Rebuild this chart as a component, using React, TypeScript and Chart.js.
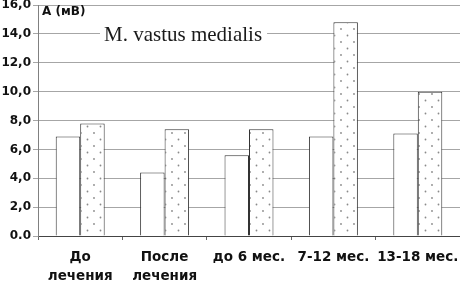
import React, { useEffect, useRef } from "react";
import { Chart, registerables } from "chart.js";

Chart.register(...registerables);

const categories: string[][] = [
  ["До", "лечения"],
  ["После", "лечения"],
  ["до 6 мес."],
  ["7-12 мес."],
  ["13-18 мес."],
];
const seriesA: number[] = [6.9, 4.4, 5.6, 6.9, 7.1];
const seriesB: number[] = [7.8, 7.4, 7.4, 14.8, 10.0];
const yTickLabels: string[] = ["0.0", "2,0", "4,0", "6,0", "8,0", "10,0", "12,0", "14,0", "16,0"];
const chartTitle = "M. vastus medialis";
const axisTitle = "А (мВ)";

function makeDotPattern(): CanvasPattern | string {
  const c = document.createElement("canvas");
  c.width = 13;
  c.height = 13;
  const ctx = c.getContext("2d");
  if (!ctx) return "#fff";
  ctx.fillStyle = "#ffffff";
  ctx.fillRect(0, 0, 13, 13);
  ctx.fillStyle = "#8a8a8a";
  ctx.beginPath();
  ctx.arc(3, 3, 0.9, 0, Math.PI * 2);
  ctx.fill();
  ctx.beginPath();
  ctx.arc(9.5, 9.5, 0.9, 0, Math.PI * 2);
  ctx.fill();
  const p = ctx.createPattern(c, "repeat");
  return p || "#fff";
}

const textPlugin = {
  id: "textPlugin",
  beforeDatasetsDraw(chart: any) {
    const ctx = chart.ctx;
    const y = chart.scales.y;
    ctx.save();
    ctx.font = '21px "Liberation Serif", "Times New Roman", serif';
    const w = ctx.measureText(chartTitle).width;
    const tx = 104;
    const ty = y.getPixelForValue(14);
    ctx.fillStyle = "#ffffff";
    ctx.fillRect(tx - 4, ty - 12, w + 9, 24);
    ctx.fillStyle = "#1a1a1a";
    ctx.textBaseline = "middle";
    ctx.textAlign = "left";
    ctx.fillText(chartTitle, tx, ty + 2);
    ctx.font = 'bold 12px "DejaVu Sans", sans-serif';
    ctx.fillStyle = "#111111";
    ctx.fillText(axisTitle, 42, 12);
    ctx.restore();
  },
};

export default function App() {
  const ref = useRef<HTMLCanvasElement | null>(null);
  useEffect(() => {
    if (!ref.current) return;
    const pattern = makeDotPattern();
    const chart = new Chart(ref.current, {
      type: "bar",
      data: {
        labels: categories,
        datasets: [
          {
            data: seriesA,
            backgroundColor: "#ffffff",
            borderColor: "#333333",
            borderWidth: 1,
            borderSkipped: "start",
          },
          {
            data: seriesB,
            backgroundColor: pattern as any,
            borderColor: "#333333",
            borderWidth: 1,
            borderSkipped: "start",
          },
        ],
      },
      options: {
        responsive: false,
        animation: false,
        layout: { padding: { top: 5, left: 0, right: 0, bottom: 0 }, autoPadding: false },
        plugins: { legend: { display: false }, tooltip: { enabled: false }, title: { display: false } },
        datasets: { bar: { categoryPercentage: 0.58, barPercentage: 1 } },
        scales: {
          x: {
            grid: { drawOnChartArea: false, offset: true, tickLength: 4, color: "#666666" },
            border: { color: "#444444" },
            ticks: {
              color: "#111111",
              font: { family: '"DejaVu Sans", sans-serif', size: 13.5, weight: "bold", lineHeight: 1.4 },
              padding: 8,
              maxRotation: 0,
              autoSkip: false,
            },
            afterFit: (s: any) => {
              s.height = 46;
              s.paddingLeft = 0;
              s.paddingRight = 0;
            },
          },
          y: {
            min: 0,
            max: 16,
            grid: { color: "#a6a6a6", tickLength: 5 },
            border: { color: "#808080" },
            ticks: {
              stepSize: 2,
              color: "#111111",
              padding: 2,
              font: { family: '"DejaVu Sans", sans-serif', size: 12, weight: "bold" },
              callback: (_v: any, i: number) => yTickLabels[i],
            },
            afterFit: (s: any) => {
              s.width = 38;
              s.paddingTop = 0;
              s.paddingBottom = 0;
            },
          },
        },
      },
      plugins: [textPlugin],
    });
    return () => chart.destroy();
  }, []);
  return (
    <div style={{ position: "absolute", left: 0, top: 0, width: 460, height: 282, background: "#fff" }}>
      <canvas ref={ref} width={460} height={282} />
    </div>
  );
}
